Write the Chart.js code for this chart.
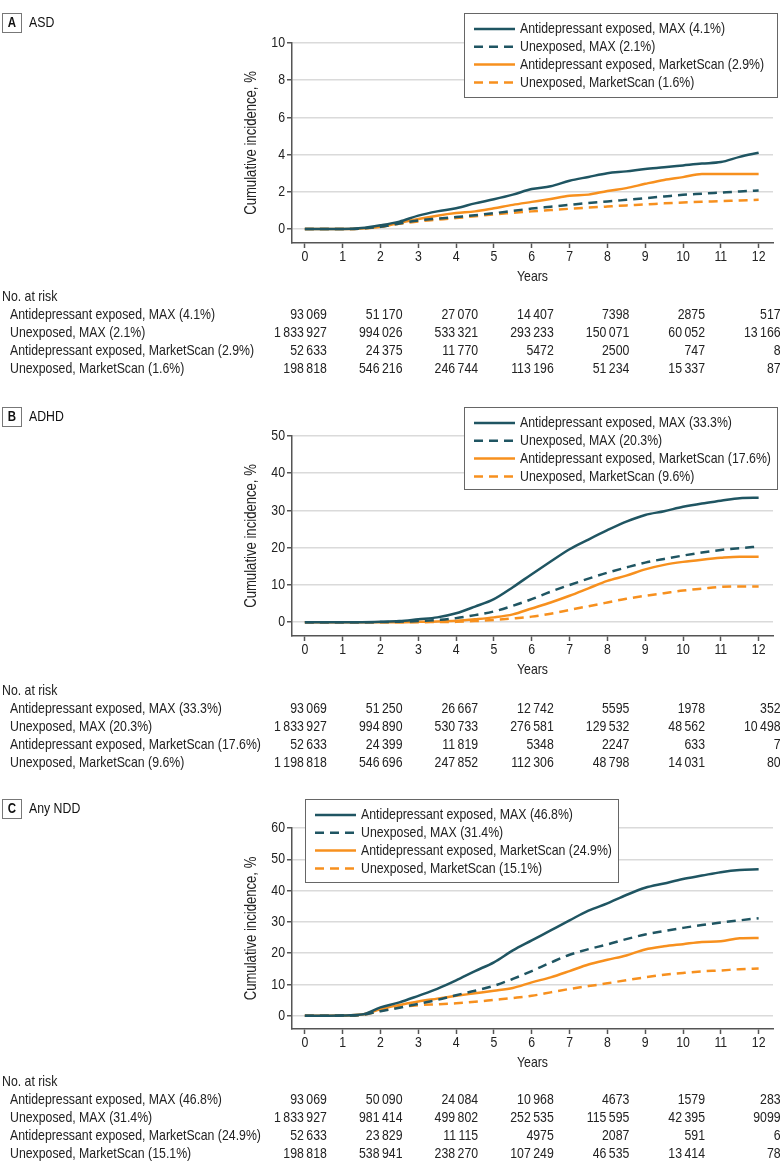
<!DOCTYPE html>
<html>
<head>
<meta charset="utf-8">
<script src="https://cdn.jsdelivr.net/npm/chart.js@4.4.1/dist/chart.umd.min.js"></script>
<style>
  body { margin: 0; background: #fff; }
  canvas { position: absolute; left: 0; }
</style>
</head>
<body>
<canvas id="chartA" width="780" height="380" style="top:0"></canvas>
<canvas id="chartB" width="780" height="395" style="top:380px"></canvas>
<canvas id="chartC" width="780" height="398" style="top:775px"></canvas>
<script>
// shared axes / labels
const years = [0, 0.5, 1, 1.5, 2, 2.5, 3, 3.5, 4, 4.5, 5, 5.5, 6, 6.5, 7, 7.5, 8, 8.5, 9, 9.5, 10, 10.5, 11, 11.5, 12];
const xTicks = [0, 1, 2, 3, 4, 5, 6, 7, 8, 9, 10, 11, 12];
const riskYears = [0, 2, 4, 6, 8, 10, 12];
const seriesNames = ['Antidepressant exposed, MAX', 'Unexposed, MAX', 'Antidepressant exposed, MarketScan', 'Unexposed, MarketScan'];

// A: ASD
const asdFinal = ['4.1%', '2.1%', '2.9%', '1.6%'];
const asdExpMax = [0, 0, 0, 0.05, 0.2, 0.4, 0.72, 0.95, 1.12, 1.38, 1.6, 1.85, 2.15, 2.3, 2.6, 2.8, 3.0, 3.1, 3.23, 3.32, 3.42, 3.52, 3.6, 3.88, 4.1];
const asdUnxMax = [0, 0, 0, 0.03, 0.12, 0.3, 0.46, 0.56, 0.65, 0.74, 0.85, 0.98, 1.1, 1.2, 1.3, 1.4, 1.48, 1.57, 1.66, 1.75, 1.84, 1.9, 1.96, 2.02, 2.07];
const asdExpMs = [0, 0, 0, 0.03, 0.12, 0.33, 0.54, 0.72, 0.86, 0.95, 1.12, 1.3, 1.46, 1.62, 1.79, 1.85, 2.05, 2.2, 2.43, 2.64, 2.79, 2.96, 2.96, 2.96, 2.96];
const asdUnxMs = [0, 0, 0, 0.03, 0.12, 0.28, 0.41, 0.5, 0.59, 0.69, 0.79, 0.87, 0.95, 1.02, 1.09, 1.15, 1.21, 1.27, 1.32, 1.38, 1.43, 1.47, 1.5, 1.54, 1.57];
const asdRiskExpMax = [93069, 51170, 27070, 14407, 7398, 2875, 517];
const asdRiskUnxMax = [1833927, 994026, 533321, 293233, 150071, 60052, 13166];
const asdRiskExpMs = [52633, 24375, 11770, 5472, 2500, 747, 8];
const asdRiskUnxMs = [198818, 546216, 246744, 113196, 51234, 15337, 87];

// B: ADHD
const adhdFinal = ['33.3%', '20.3%', '17.6%', '9.6%'];
const adhdExpMax = [0, 0, 0, 0, 0.1, 0.3, 0.8, 1.3, 2.4, 4.2, 6.2, 9.4, 12.9, 16.3, 19.6, 22.2, 24.7, 27.0, 28.8, 29.8, 31.0, 31.9, 32.6, 33.3, 33.4];
const adhdUnxMax = [0, 0, 0, 0, 0.05, 0.15, 0.3, 0.6, 1.1, 1.9, 2.9, 4.4, 6.2, 8.2, 10.0, 11.7, 13.3, 14.7, 16.0, 17.0, 17.9, 18.7, 19.4, 19.9, 20.3];
const adhdExpMs = [0, 0, 0, 0, 0, 0, 0.1, 0.2, 0.4, 0.8, 1.3, 2.1, 3.7, 5.3, 7.1, 9.1, 11.1, 12.5, 14.2, 15.4, 16.2, 16.8, 17.3, 17.6, 17.6];
const adhdUnxMs = [0, 0, 0, 0, 0, 0, 0, 0.05, 0.1, 0.3, 0.6, 1.0, 1.5, 2.3, 3.3, 4.3, 5.3, 6.3, 7.1, 7.8, 8.5, 9.0, 9.5, 9.6, 9.6];
const adhdRiskExpMax = [93069, 51250, 26667, 12742, 5595, 1978, 352];
const adhdRiskUnxMax = [1833927, 994890, 530733, 276581, 129532, 48562, 10498];
const adhdRiskExpMs = [52633, 24399, 11819, 5348, 2247, 633, 7];
const adhdRiskUnxMs = [1198818, 546696, 247852, 112306, 48798, 14031, 80];

// C: Any NDD
const nddFinal = ['46.8%', '31.4%', '24.9%', '15.1%'];
const nddExpMax = [0, 0.05, 0.1, 0.4, 2.7, 4.3, 6.4, 8.6, 11.3, 14.3, 17.1, 20.9, 24.1, 27.3, 30.5, 33.6, 35.9, 38.6, 40.9, 42.3, 43.7, 44.8, 45.9, 46.6, 46.8];
const nddUnxMax = [0, 0.05, 0.1, 0.3, 1.5, 2.6, 3.8, 5.1, 6.6, 8.0, 9.6, 11.8, 14.3, 17.0, 19.5, 21.3, 22.8, 24.5, 26.0, 27.1, 28.1, 29.0, 29.8, 30.5, 31.2];
const nddExpMs = [0, 0.05, 0.1, 0.4, 2.1, 3.5, 4.6, 5.5, 6.4, 7.2, 8.0, 8.9, 10.7, 12.3, 14.3, 16.4, 17.9, 19.3, 21.2, 22.2, 22.9, 23.6, 23.8, 24.8, 24.9];
const nddUnxMs = [0, 0.05, 0.1, 0.3, 1.6, 2.8, 3.4, 3.7, 4.0, 4.5, 5.1, 5.7, 6.4, 7.5, 8.6, 9.5, 10.4, 11.4, 12.3, 13.1, 13.7, 14.2, 14.5, 14.9, 15.1];
const nddRiskExpMax = [93069, 50090, 24084, 10968, 4673, 1579, 283];
const nddRiskUnxMax = [1833927, 981414, 499802, 252535, 115595, 42395, 9099];
const nddRiskExpMs = [52633, 23829, 11115, 4975, 2087, 591, 6];
const nddRiskUnxMs = [198818, 538941, 238270, 107249, 46535, 13414, 78];

const FONT = "'Liberation Sans', Arial, sans-serif";
const SQUEEZE = 0.82; // narrow look (no condensed face installed)
const TEAL = '#1f5562';
const ORANGE = '#f7901e';
const INK = '#222';

Chart.defaults.font.family = FONT;
Chart.defaults.color = INK;

function fmt(n) {
  if (n < 10000) return String(n);
  return String(n).replace(/\B(?=(\d{3})+(?!\d))/g, '\u2009');
}

// draws text horizontally condensed
function nText(ctx, text, x, y, size, bold) {
  ctx.font = (bold ? 'bold ' : '') + size + 'px ' + FONT;
  const w = ctx.measureText(text).width * SQUEEZE;
  ctx.fillText(text, x, y, w);
}

function makePanel(id, p) {
  const styles = [
    { color: TEAL, dash: [] },
    { color: TEAL, dash: [9, 6] },
    { color: ORANGE, dash: [] },
    { color: ORANGE, dash: [9, 6] }
  ];
  const datasets = p.series.map((s, i) => ({
    label: seriesNames[i] + ' (' + p.finals[i] + ')',
    data: years.map((yr, k) => ({ x: yr, y: s[k] })),
    borderColor: styles[i].color,
    borderDash: styles[i].dash,
    borderWidth: 2.5,
    pointRadius: 0,
    cubicInterpolationMode: 'monotone',
    fill: false
  }));

  const decor = {
    id: 'decor_' + id,
    afterDraw(chart) {
      const ctx = chart.ctx;
      const xs = chart.scales.x;
      const ys = chart.scales.y;
      const area = chart.chartArea;
      ctx.save();
      ctx.fillStyle = INK;

      // tick labels + axis titles
      ctx.textBaseline = 'middle';
      ctx.textAlign = 'center';
      xTicks.forEach(v => nText(ctx, String(v), xs.getPixelForValue(v), area.bottom + 14, 15));
      nText(ctx, 'Years', (area.left + area.right) / 2, area.bottom + 34, 15);
      ctx.textAlign = 'right';
      p.yTicks.forEach(v => nText(ctx, String(v), area.left - 7, ys.getPixelForValue(v), 15));
      ctx.save();
      ctx.translate(252, (area.top + area.bottom) / 2);
      ctx.rotate(-Math.PI / 2);
      ctx.textAlign = 'center';
      nText(ctx, 'Cumulative incidence, %', 0, 0, 16);
      ctx.restore();

      // panel tag
      ctx.strokeStyle = '#777';
      ctx.lineWidth = 1;
      ctx.strokeRect(2.5, p.tagY - 9.5, 19, 19);
      ctx.fillStyle = '#111';
      ctx.textAlign = 'center';
      nText(ctx, p.letter, 12, p.tagY + 0.5, 14, true);
      ctx.textAlign = 'left';
      nText(ctx, p.title, 29, p.tagY, 15);

      // legend box
      const L = p.legend;
      ctx.fillStyle = '#fff';
      ctx.fillRect(L.x, L.y, L.w, L.h);
      ctx.strokeStyle = '#666';
      ctx.strokeRect(L.x + 0.5, L.y + 0.5, L.w, L.h);
      chart.data.datasets.forEach((ds, i) => {
        const yy = L.y + 16 + i * 17.8;
        ctx.beginPath();
        ctx.setLineDash(ds.borderDash);
        ctx.strokeStyle = ds.borderColor;
        ctx.lineWidth = 2.5;
        ctx.moveTo(L.x + 10, yy);
        ctx.lineTo(L.x + 51, yy);
        ctx.stroke();
        ctx.setLineDash([]);
        ctx.fillStyle = INK;
        nText(ctx, ds.label, L.x + 56, yy, 15);
      });

      // number at risk table
      ctx.fillStyle = INK;
      ctx.textAlign = 'left';
      nText(ctx, 'No. at risk', 2, p.riskY, 15);
      p.risk.forEach((row, i) => {
        const yy = p.riskY + 18 * (i + 1);
        ctx.textAlign = 'left';
        nText(ctx, chart.data.datasets[i].label, 10, yy, 15);
        ctx.textAlign = 'right';
        row.forEach((v, c) => {
          nText(ctx, fmt(v), xs.getPixelForValue(riskYears[c]) + 22, yy, 15);
        });
      });
      ctx.restore();
    }
  };

  return new Chart(document.getElementById(id), {
    type: 'line',
    data: { datasets: datasets },
    options: {
      responsive: false,
      animation: false,
      layout: { padding: { left: 239, right: 7, top: p.plotTop, bottom: p.bottomPad } },
      plugins: { legend: { display: false }, tooltip: { enabled: false } },
      scales: {
        x: {
          type: 'linear',
          min: -0.34,
          max: 12.38,
          afterBuildTicks: (s) => { s.ticks = xTicks.map(v => ({ value: v })); },
          afterFit: (s) => { s.height = 47; },
          grid: { drawOnChartArea: false, tickLength: 5, tickColor: '#555', tickWidth: 1.5 },
          border: { color: '#555', width: 1.5 },
          ticks: { display: false }
        },
        y: {
          min: p.yMin,
          max: p.yMax,
          afterBuildTicks: (s) => { s.ticks = p.yTicks.map(v => ({ value: v })); },
          afterFit: (s) => { s.width = 53; },
          grid: { color: '#dadada', lineWidth: 1.5, tickLength: 5, tickColor: '#555', tickWidth: 1.5 },
          border: { color: '#555', width: 1.5 },
          ticks: { display: false }
        }
      }
    },
    plugins: [decor]
  });
}

makePanel('chartA', {
  letter: 'A', title: 'ASD', tagY: 23,
  series: [asdExpMax, asdUnxMax, asdExpMs, asdUnxMs], finals: asdFinal,
  yMin: -0.75, yMax: 10, yTicks: [0, 2, 4, 6, 8, 10],
  plotTop: 43, bottomPad: 90,
  legend: { x: 464, y: 13, w: 313, h: 84 },
  riskY: 297,
  risk: [asdRiskExpMax, asdRiskUnxMax, asdRiskExpMs, asdRiskUnxMs]
});

makePanel('chartB', {
  letter: 'B', title: 'ADHD', tagY: 37,
  series: [adhdExpMax, adhdUnxMax, adhdExpMs, adhdUnxMs], finals: adhdFinal,
  yMin: -3.7, yMax: 50, yTicks: [0, 10, 20, 30, 40, 50],
  plotTop: 56, bottomPad: 92,
  legend: { x: 464, y: 27, w: 313, h: 82 },
  riskY: 311,
  risk: [adhdRiskExpMax, adhdRiskUnxMax, adhdRiskExpMs, adhdRiskUnxMs]
});

makePanel('chartC', {
  letter: 'C', title: 'Any NDD', tagY: 34,
  series: [nddExpMax, nddUnxMax, nddExpMs, nddUnxMs], finals: nddFinal,
  yMin: -4.2, yMax: 60, yTicks: [0, 10, 20, 30, 40, 50, 60],
  plotTop: 53, bottomPad: 97,
  legend: { x: 305, y: 24, w: 313, h: 83 },
  riskY: 307,
  risk: [nddRiskExpMax, nddRiskUnxMax, nddRiskExpMs, nddRiskUnxMs]
});
</script>
</body>
</html>
